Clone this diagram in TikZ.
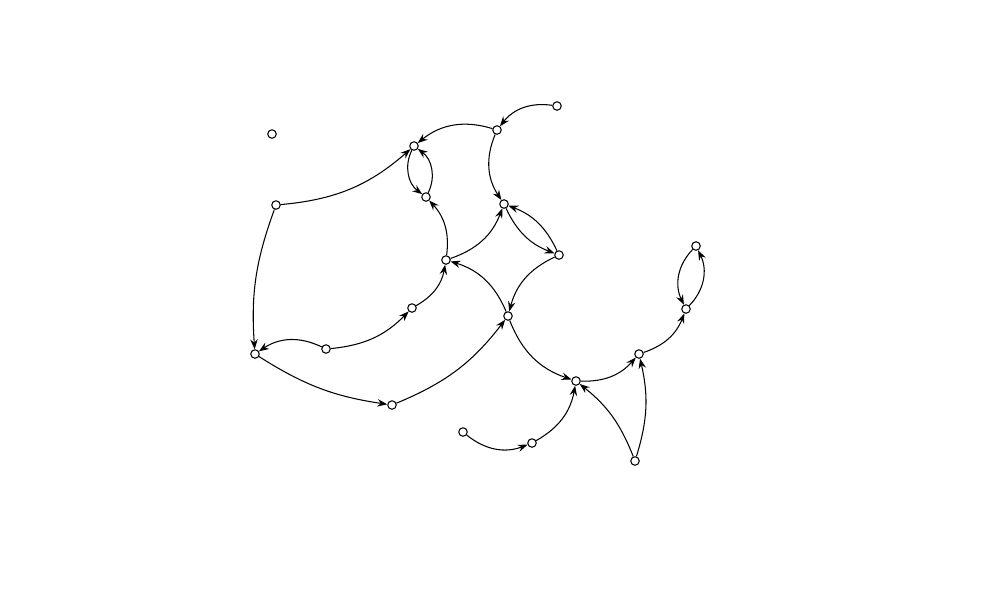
\documentclass[tikz,border=0pt]{standalone}
\usetikzlibrary{arrows.meta}
\begin{document}
\begin{tikzpicture}[x=0.02cm,y=0.02cm,
  vtx/.style={circle,draw=black,fill=white,line width=0.6pt,inner sep=0pt,minimum size=1.7mm},
  arc/.style={draw=black,line width=0.6pt,-{Stealth[length=2mm,width=1.5mm,inset=0.7mm]}},
  every edge/.style={arc}]
\useasboundingbox (0,0) rectangle (1000,-600);
\node[vtx] (A) at (272,-134) {};
\node[vtx] (B) at (414,-146) {};
\node[vtx] (C) at (497,-130) {};
\node[vtx] (D) at (557,-106) {};
\node[vtx] (E) at (276,-205) {};
\node[vtx] (F) at (426,-197) {};
\node[vtx] (G) at (504,-204) {};
\node[vtx] (H) at (559,-255) {};
\node[vtx] (I) at (446,-260) {};
\node[vtx] (J) at (412,-308) {};
\node[vtx] (K) at (508,-316) {};
\node[vtx] (L) at (326,-349) {};
\node[vtx] (M) at (255,-354) {};
\node[vtx] (N) at (392,-405) {};
\node[vtx] (O) at (576,-381) {};
\node[vtx] (P) at (639,-354) {};
\node[vtx] (Q) at (686,-309) {};
\node[vtx] (R) at (696,-246) {};
\node[vtx] (S) at (463,-432) {};
\node[vtx] (T) at (532,-443) {};
\node[vtx] (U) at (635,-461) {};
\path
 (D) edge[bend right=30] (C)
 (C) edge[bend right=28] (B)
 (C) edge[bend right=28] (G)
 (E) edge[bend right=18] (B)
 (B) edge[bend right=40] (F)
 (F) edge[bend right=40] (B)
 (I) edge[bend right=25] (F)
 (I) edge[bend right=25] (G)
 (G) edge[bend right=22] (H)
 (H) edge[bend right=22] (G)
 (H) edge[bend right=25] (K)
 (K) edge[bend right=25] (I)
 (J) edge[bend right=25] (I)
 (L) edge[bend right=20] (J)
 (L) edge[bend right=30] (M)
 (E) edge[bend right=12] (M)
 (M) edge[bend right=12] (N)
 (N) edge[bend right=15] (K)
 (K) edge[bend right=25] (O)
 (O) edge[bend right=25] (P)
 (P) edge[bend right=25] (Q)
 (R) edge[bend right=35] (Q)
 (Q) edge[bend right=35] (R)
 (S) edge[bend right=30] (T)
 (T) edge[bend right=25] (O)
 (U) edge[bend right=15] (O)
 (U) edge[bend right=15] (P);
\end{tikzpicture}
\end{document}
